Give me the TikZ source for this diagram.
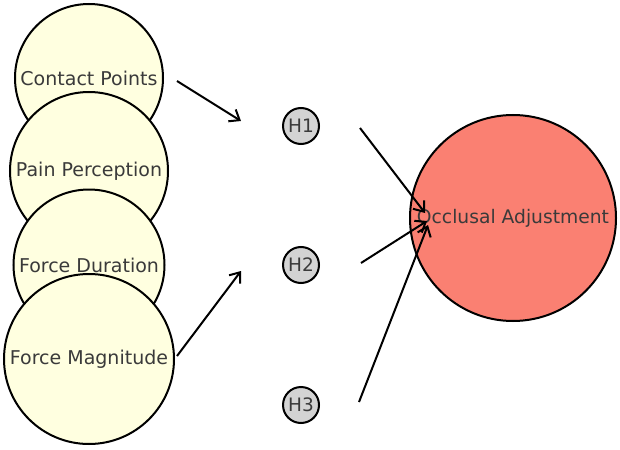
\documentclass[tikz,border=0pt]{standalone}
\usepackage{fontspec}
\setmainfont{DejaVu Sans}
\usetikzlibrary{arrows.meta}
\definecolor{cyel}{HTML}{FFFFE0}
\definecolor{csal}{HTML}{FA8072}
\definecolor{cgray}{HTML}{D3D3D3}
\definecolor{ctxt}{HTML}{3A3A3A}
\tikzset{
  factor/.style={circle, draw=black, line width=2pt, fill=cyel, inner sep=0pt, text=ctxt, font=\fontsize{19}{22}\selectfont},
  hyp/.style={circle, draw=black, line width=2pt, fill=cgray, minimum size=36pt, inner sep=0pt, text=ctxt, font=\fontsize{18.5}{22}\selectfont},
  outc/.style={circle, draw=black, line width=2pt, fill=csal, minimum size=206pt, inner sep=0pt, text=ctxt, font=\fontsize{18.7}{22}\selectfont},
  link/.style={line width=2pt, -{Straight Barb[length=9pt,width=14pt,line width=2pt]}}
}
\begin{document}
\begin{tikzpicture}[x=1pt,y=-1pt]
\path[use as bounding box, fill=white] (0,0) rectangle (620,449);
\node[factor, minimum size=148pt] (cp) at (89,78) {Contact Points};
\node[factor, minimum size=158pt] (pp) at (89,171) {Pain Perception};
\node[factor, minimum size=151pt] (fd) at (89,265) {Force Duration};
\node[factor, minimum size=170pt] (fm) at (89,359) {Force Magnitude};
\node[hyp] (h1) at (301,126) {H1};
\node[hyp] (h2) at (301,265) {H2};
\node[hyp] (h3) at (301,405) {H3};
\node[outc] (oa) at (513,218) {Occlusal Adjustment};
\coordinate (a1s) at (177,81);
\coordinate (a1e) at (241,121);
\coordinate (a2s) at (177,356);
\coordinate (a2e) at (241,271);
\coordinate (b1s) at (360,128);
\coordinate (b1e) at (425,213);
\coordinate (b2s) at (361,263);
\coordinate (b2e) at (427,221);
\coordinate (b3s) at (359,402);
\coordinate (b3e) at (428,225);
\draw[link] (a1s) -- (a1e);
\draw[link] (a2s) -- (a2e);
\draw[link] (b1s) -- (b1e);
\draw[link] (b2s) -- (b2e);
\draw[link] (b3s) -- (b3e);
\end{tikzpicture}
\end{document}
